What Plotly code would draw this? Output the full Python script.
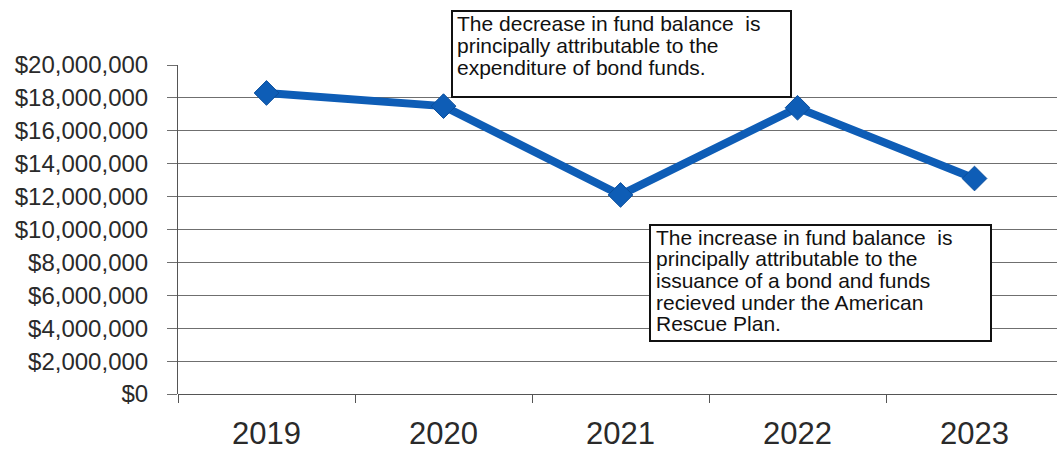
import plotly.graph_objects as go

# Fund balance by fiscal year
years = ["2019", "2020", "2021", "2022", "2023"]
fund_balance = [18300000, 17500000, 12100000, 17400000, 13100000]

y_tick_values = [0, 2000000, 4000000, 6000000, 8000000, 10000000,
                 12000000, 14000000, 16000000, 18000000, 20000000]

note_decrease = [
    "The decrease in fund balance\u00a0 is",
    "principally attributable to the",
    "expenditure of bond funds.",
]
note_increase = [
    "The increase in fund balance\u00a0 is",
    "principally attributable to the",
    "issuance of a bond and funds",
    "recieved under the American",
    "Rescue Plan.",
]

# Page geometry (pixels)
W, H = 1057, 451
PLOT_L, PLOT_T, PLOT_W, PLOT_H = 178, 65, 879, 329

def px_x(px):
    return (px - PLOT_L) / PLOT_W

def px_y(py):
    return (PLOT_T + PLOT_H - py) / PLOT_H

LINE_BLUE = "#0E5DB6"
FONT = "Liberation Sans, Arial, sans-serif"

fig = go.Figure()
fig.add_trace(go.Scatter(
    x=years, y=fund_balance, mode="lines+markers",
    line=dict(color=LINE_BLUE, width=8),
    marker=dict(symbol="diamond", size=19, color=LINE_BLUE,
                line=dict(color="#0A4E9C", width=1)),
    cliponaxis=False, hoverinfo="skip", showlegend=False,
))

shapes = []
annotations = []

def add_note(lines, box_l, box_t, box_r, box_b, text_l, first_mid, step):
    shapes.append(dict(
        type="rect", xref="paper", yref="paper",
        x0=px_x(box_l), x1=px_x(box_r), y0=px_y(box_b), y1=px_y(box_t),
        line=dict(color="#111111", width=2), fillcolor="white", layer="above",
    ))
    for i, txt in enumerate(lines):
        annotations.append(dict(
            xref="paper", yref="paper", x=px_x(text_l),
            y=px_y(first_mid + i * step), xanchor="left", yanchor="middle",
            borderpad=0, text=txt, showarrow=False,
            font=dict(family=FONT, size=21, color="#111111"),
        ))

add_note(note_decrease, 452, 11, 791, 97, 456, 24, 21.7)
add_note(note_increase, 650, 225, 991, 341, 655, 237, 21.7)

fig.update_layout(
    width=W, height=H,
    margin=dict(l=PLOT_L, r=W - PLOT_L - PLOT_W, t=PLOT_T, b=H - PLOT_T - PLOT_H, pad=0),
    paper_bgcolor="white", plot_bgcolor="white",
    shapes=shapes, annotations=annotations,
    xaxis=dict(
        type="category", range=[-0.5, 4.466],
        showgrid=False, zeroline=False,
        showline=False, ticks="outside", tickson="boundaries",
        ticklen=8, tickcolor="#555555", tickwidth=1,
        tickfont=dict(family=FONT, size=31, color="#2a2a2a"),
        ticklabelstandoff=18,
    ),
    yaxis=dict(
        range=[0, 20000000], tickvals=y_tick_values,
        tickformat="$,d",
        showgrid=True, gridcolor="#6f6f6f", gridwidth=1,
        zeroline=True, zerolinecolor="#555555", zerolinewidth=1,
        showline=True, linecolor="#555555", linewidth=1,
        ticks="outside", ticklen=10, tickcolor="#6f6f6f",
        tickfont=dict(family=FONT, size=24, color="#2a2a2a"),
        ticklabelstandoff=14,
    ),
)

fig.write_html("out.html")
